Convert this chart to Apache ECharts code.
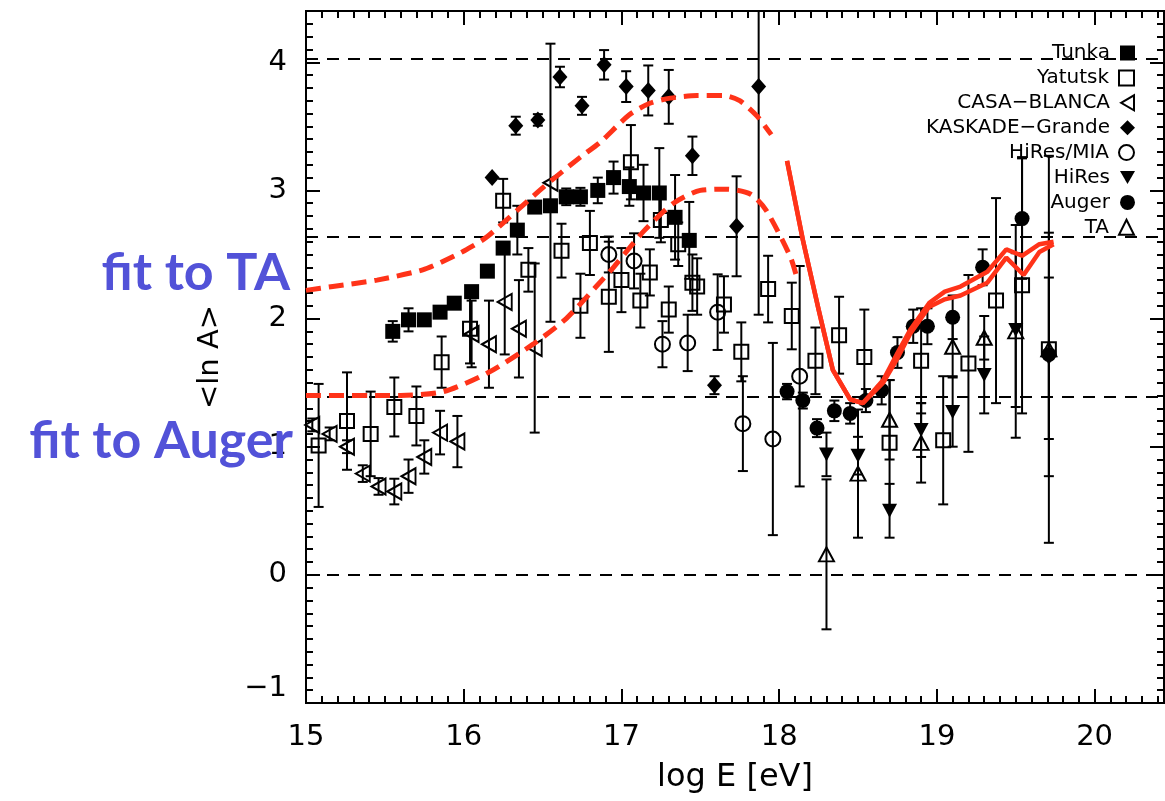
<!DOCTYPE html>
<html>
<head>
<meta charset="utf-8">
<script src="https://cdn.jsdelivr.net/npm/echarts@6/dist/echarts.min.js"></script>
<style>
  html, body { margin: 0; padding: 0; background: #fff; }
  #chart { width: 1165px; height: 801px; }
</style>
</head>
<body>
<div id="chart"></div>
<script>
// Mean logarithmic mass <ln A> versus log10 of the primary energy.
// Each measurement row: [log E, <ln A>, error]

const tunka = [
  [15.55, 1.90, 0.08], [15.65, 1.99, 0.09], [15.75, 1.99, 0], [15.85, 2.05, 0],
  [15.94, 2.12, 0], [16.05, 2.21, 0], [16.15, 2.37, 0], [16.25, 2.55, 0],
  [16.34, 2.69, 0.19], [16.45, 2.87, 0], [16.55, 2.88, 0], [16.65, 2.95, 0.065],
  [16.74, 2.95, 0.07], [16.85, 3.00, 0.10], [16.95, 3.10, 0.125], [17.05, 3.03, 0.15],
  [17.14, 2.98, 0.22], [17.24, 2.98, 0.35], [17.34, 2.79, 0.33], [17.43, 2.61, 0.30]
];

const yakutsk = [
  [15.08, 1.01, 0.48], [15.26, 1.20, 0.38], [15.41, 1.10, 0.33], [15.56, 1.31, 0.23],
  [15.70, 1.24, 0.23], [15.86, 1.66, 0.20], [16.04, 1.92, 0.27], [16.25, 2.92, 0.17],
  [16.41, 2.38, 0.17], [16.62, 2.53, 0.21], [16.74, 2.10, 0.25], [16.80, 2.59, 0.25],
  [16.92, 2.17, 0.43], [17.00, 2.30, 0.25], [17.06, 3.22, 0.29], [17.12, 2.14, 0.21],
  [17.18, 2.36, 0.18], [17.25, 2.77, 0.175], [17.30, 2.07, 0.18], [17.36, 2.58, 0.17],
  [17.45, 2.28, 0.22], [17.48, 2.25, 0.22], [17.65, 2.11, 0.22], [17.76, 1.74, 0.23],
  [17.93, 2.23, 0.26], [18.08, 2.02, 0.26], [18.23, 1.67, 0.26], [18.38, 1.87, 0.30],
  [18.54, 1.70, 0.37], [18.70, 1.03, 0.49], [18.90, 1.67, 0.41], [19.04, 1.05, 0.50],
  [19.20, 1.65, 0.69], [19.375, 2.14, 0.80], [19.54, 2.26, 1.00], [19.71, 1.76, 1.51]
];

const casaBlanca = [
  [15.04, 1.17, 0.05], [15.15, 1.10, 0.05], [15.26, 1.00, 0.05], [15.36, 0.79, 0.065],
  [15.46, 0.69, 0.065], [15.56, 0.65, 0.10], [15.65, 0.77, 0.13], [15.75, 0.92, 0.13],
  [15.85, 1.11, 0.17], [15.96, 1.04, 0.20], [16.05, 1.88, 0.26], [16.16, 1.80, 0.34],
  [16.26, 2.13, 0.41], [16.35, 1.92, 0.38], [16.45, 1.77, 0.66], [16.55, 3.06, 1.085]
];

const kaskadeGrande = [
  [16.18, 3.10, 0], [16.33, 3.505, 0.07], [16.47, 3.55, 0.045], [16.61, 3.885, 0.08],
  [16.75, 3.66, 0.07], [16.89, 3.98, 0.115], [17.03, 3.81, 0.12], [17.17, 3.78, 0.195],
  [17.30, 3.73, 0.21], [17.45, 3.27, 0.15], [17.59, 1.48, 0.07], [17.73, 2.72, 0.39],
  [17.87, 3.81, 1.78]
];

const hiresMia = [
  [16.92, 2.50, 0.14], [17.08, 2.45, 0.215], [17.26, 1.80, 0.18], [17.42, 1.81, 0.22],
  [17.61, 2.05, 0.295], [17.77, 1.18, 0.37], [17.96, 1.06, 0.75], [18.13, 1.55, 0.86]
];

const hires = [
  [18.30, 0.94, 0.17], [18.50, 0.93, 0.147], [18.70, 0.50, 0.21], [18.90, 1.13, 0.21],
  [19.10, 1.27, 0.27], [19.30, 1.56, 0.30], [19.50, 1.91, 0.60], [19.71, 1.69, 0.63]
];

const auger = [
  [18.05, 1.43, 0.06], [18.15, 1.36, 0.062], [18.24, 1.145, 0.07], [18.35, 1.28, 0.08],
  [18.45, 1.26, 0.08], [18.55, 1.36, 0.09], [18.65, 1.44, 0.11], [18.75, 1.735, 0.12],
  [18.85, 1.94, 0.13], [18.94, 1.94, 0.14], [19.10, 2.01, 0.17], [19.29, 2.40, 0.14],
  [19.54, 2.78, 0.47], [19.71, 1.72, 0.95]
];

const ta = [
  [18.30, 0.16, 0.585], [18.50, 0.79, 0.50], [18.70, 1.21, 0.31], [18.90, 1.03, 0.31],
  [19.10, 1.78, 0.23], [19.30, 1.85, 0.17], [19.50, 1.90, 0.83], [19.71, 1.76, 0]
];

// Model curves: [log E, <ln A>]
const taFitDashed = [
  [15.0, 2.22], [15.17, 2.25], [15.45, 2.30], [15.74, 2.38], [15.91, 2.47],
  [16.02, 2.54], [16.15, 2.64], [16.50, 3.02], [16.74, 3.26], [16.86, 3.37],
  [17.05, 3.59], [17.18, 3.68], [17.31, 3.72], [17.48, 3.74], [17.65, 3.74],
  [17.75, 3.70], [17.86, 3.58], [17.95, 3.435]
];
const augerFitDashed = [
  [15.0, 1.40], [15.60, 1.40], [15.87, 1.43], [16.15, 1.575], [16.44, 1.80],
  [16.65, 2.00], [16.84, 2.25], [16.95, 2.40], [17.14, 2.68], [17.33, 2.90],
  [17.50, 3.00], [17.67, 3.01], [17.82, 2.97], [17.92, 2.84], [18.07, 2.485],
  [18.11, 2.33]
];
const taFitSolid = [
  [18.05, 3.23], [18.15, 2.615], [18.25, 2.07], [18.34, 1.60], [18.45, 1.37],
  [18.53, 1.34], [18.66, 1.52], [18.75, 1.73], [18.83, 1.91], [18.95, 2.12],
  [19.05, 2.21], [19.15, 2.25], [19.32, 2.365], [19.44, 2.54], [19.54, 2.49],
  [19.65, 2.58], [19.74, 2.60]
];
const augerFitSolid = [
  [18.05, 3.23], [18.15, 2.615], [18.25, 2.07], [18.34, 1.60], [18.45, 1.37],
  [18.53, 1.34], [18.66, 1.50], [18.75, 1.69], [18.83, 1.88], [18.95, 2.09],
  [19.05, 2.15], [19.15, 2.18], [19.32, 2.28], [19.44, 2.475], [19.55, 2.34],
  [19.65, 2.52], [19.74, 2.58]
];

// <ln A> of p, He, N and Fe
const massLevels = [0, 1.386, 2.639, 4.025];

const xTicksMajor = 1, xTicksMinor = 0.1;
const yTicksMajor = 1, yTicksMinor = 0.1;
const xRange = [15, 20.44];
const yRange = [-1, 4.4];

const legendNames = ['Tunka', 'Yatutsk', 'CASA\u2212BLANCA', 'KASKADE\u2212Grande',
                     'HiRes/MIA', 'HiRes', 'Auger', 'TA'];

const fitLabels = ['fit to TA', 'fit to Auger'];

const RED = '#ff3319';
const FONT = 'DejaVu Sans';

const leftTri = 'path://M0,50 L86,0 L86,100 Z';
const downTri = 'path://M0,0 L100,0 L50,86 Z';

const hollow = { color: 'transparent', borderColor: '#000', borderWidth: 2, opacity: 1 };
const solid = { color: '#000', borderColor: '#000', borderWidth: 0, opacity: 1 };

const sets = [
  { name: legendNames[0], data: tunka, symbol: 'rect', size: 15, style: solid },
  { name: legendNames[1], data: yakutsk, symbol: 'rect', size: 14, style: hollow },
  { name: legendNames[2], data: casaBlanca, symbol: leftTri, size: [14, 16], style: hollow },
  { name: legendNames[3], data: kaskadeGrande, symbol: 'diamond', size: [15, 17], style: solid },
  { name: legendNames[4], data: hiresMia, symbol: 'circle', size: 15, style: hollow },
  { name: legendNames[5], data: hires, symbol: downTri, size: [15, 14], style: solid },
  { name: legendNames[6], data: auger, symbol: 'circle', size: 15, style: solid },
  { name: legendNames[7], data: ta, symbol: 'triangle', size: [15, 14], style: hollow }
];

function errorBar(params, api) {
  const x = api.value(0), y = api.value(1), e = api.value(2);
  if (!e) return null;
  const hi = api.coord([x, y + e]);
  const lo = api.coord([x, y - e]);
  const cap = 5;
  const st = { stroke: '#000', lineWidth: 2 };
  return {
    type: 'group',
    children: [
      { type: 'line', shape: { x1: hi[0], y1: hi[1], x2: lo[0], y2: lo[1] }, style: st },
      { type: 'line', shape: { x1: hi[0] - cap, y1: hi[1], x2: hi[0] + cap, y2: hi[1] }, style: st },
      { type: 'line', shape: { x1: lo[0] - cap, y1: lo[1], x2: lo[0] + cap, y2: lo[1] }, style: st }
    ]
  };
}

const axisLineStyle = { show: true, onZero: false, lineStyle: { color: '#000', width: 2 } };

function xAxisDef(position, step, tickLen, labels) {
  return {
    type: 'value', position, min: xRange[0], max: xRange[1], interval: step,
    axisLine: axisLineStyle,
    axisTick: { show: true, inside: true, length: tickLen, lineStyle: { color: '#000', width: 2 } },
    axisLabel: labels ? {
      show: true, margin: 20, color: '#000', fontFamily: FONT, fontSize: 29,
      showMaxLabel: false,
      formatter: v => (Math.abs(v - Math.round(v)) < 1e-6 ? String(Math.round(v)) : '')
    } : { show: false },
    splitLine: { show: false },
    name: labels ? 'log E [eV]' : '',
    nameLocation: 'middle', nameGap: 59,
    nameTextStyle: { color: '#000', fontFamily: FONT, fontSize: 32 }
  };
}

function yAxisDef(position, step, tickLen, labels) {
  return {
    type: 'value', position, min: yRange[0], max: yRange[1], interval: step,
    axisLine: axisLineStyle,
    axisTick: { show: true, inside: true, length: tickLen, lineStyle: { color: '#000', width: 2 } },
    axisLabel: labels ? {
      show: true, margin: 19, color: '#000', fontFamily: FONT, fontSize: 29,
      showMaxLabel: false, verticalAlignMinLabel: 'bottom',
      formatter: v => {
        if (Math.abs(v - Math.round(v)) > 1e-6) return '';
        const r = Math.round(v);
        return r < 0 ? '\u2212' + Math.abs(r) : String(r);
      }
    } : { show: false },
    splitLine: { show: false },
    name: labels ? '<ln A>' : '',
    nameLocation: 'middle', nameGap: 81, nameRotate: 90,
    nameTextStyle: { color: '#000', fontFamily: FONT, fontSize: 29 }
  };
}

const series = [];

sets.forEach(s => {
  series.push({
    type: 'custom', name: s.name + ' err', data: s.data, renderItem: errorBar,
    encode: { x: 0, y: 1 }, clip: true, silent: true, z: 2
  });
});

sets.forEach(s => {
  series.push({
    type: 'scatter', name: s.name, data: s.data.map(d => [d[0], d[1]]),
    symbol: s.symbol, symbolSize: s.size, itemStyle: s.style, z: 3, silent: true
  });
});

const redLine = (data, dashed) => ({
  type: 'line', data, showSymbol: false, symbol: 'none', smooth: dashed ? 0.25 : false,
  lineStyle: { color: RED, width: dashed ? 5 : 4.5, type: dashed ? [15, 8] : 'solid', cap: 'butt' },
  z: 5, silent: true, clip: true
});

series.push(redLine(taFitDashed, true));
series.push(redLine(augerFitDashed, true));
series.push(redLine(taFitSolid, false));
series.push(redLine(augerFitSolid, false));

// horizontal reference lines for p, He, N, Fe
series.push({
  type: 'line', data: [], silent: true, z: 1,
  markLine: {
    silent: true, symbol: 'none', animation: false,
    label: { show: false },
    lineStyle: { color: '#000', type: [12, 9], width: 2 },
    data: massLevels.map(v => ({ yAxis: v }))
  }
});

const legendRowTop = 43, legendRowStep = 24.9;

const option = {
  animation: false,
  backgroundColor: '#fff',
  grid: { left: 306, right: 1, top: 11, bottom: 98, containLabel: false },
  xAxis: [
    xAxisDef('bottom', xTicksMajor, 14, true),
    xAxisDef('bottom', xTicksMinor, 7, false),
    xAxisDef('top', xTicksMajor, 14, false),
    xAxisDef('top', xTicksMinor, 7, false)
  ],
  yAxis: [
    yAxisDef('left', yTicksMajor, 14, true),
    yAxisDef('left', yTicksMinor, 7, false),
    yAxisDef('right', yTicksMajor, 14, false),
    yAxisDef('right', yTicksMinor, 7, false)
  ],
  legend: legendNames.map((n, i) => ({
    data: [n], right: 30, top: legendRowTop + i * legendRowStep,
    orient: 'horizontal', align: 'right', padding: 0,
    itemWidth: 15, itemHeight: 15, selectedMode: false,
    textStyle: { color: '#000', fontFamily: FONT, fontSize: 20, lineHeight: 20, padding: [0, 5, 0, 0] }
  })),
  graphic: [
    {
      type: 'text', z: 100, x: 290, y: 273,
      style: { text: fitLabels[0], fill: '#5252d8', font: 'bold 52px Lato', align: 'right', verticalAlign: 'middle' }
    },
    {
      type: 'text', z: 100, x: 293, y: 441,
      style: { text: fitLabels[1], fill: '#5252d8', font: 'bold 52px Lato', align: 'right', verticalAlign: 'middle' }
    }
  ],
  series
};

const chart = echarts.init(document.getElementById('chart'), null, { renderer: 'canvas' });
chart.setOption(option);
</script>
</body>
</html>
